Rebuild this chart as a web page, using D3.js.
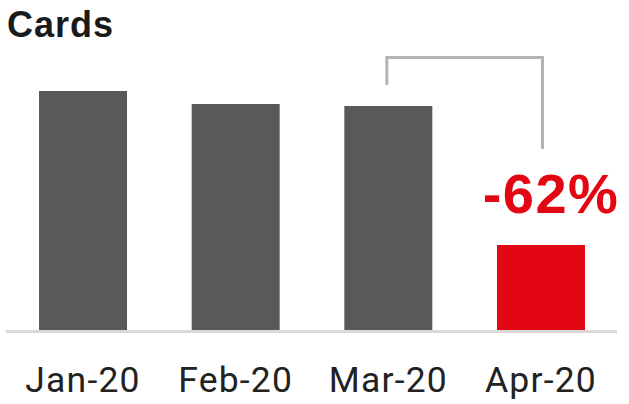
<!DOCTYPE html>
<html>
<head>
<meta charset="utf-8">
<script src="https://cdn.jsdelivr.net/npm/d3@7"></script>
<style>
  html, body { margin: 0; padding: 0; background: #fff; }
  svg { display: block; }
</style>
</head>
<body>
<svg id="chart" width="629" height="404"></svg>
<script>
const categories = ["Jan-20", "Feb-20", "Mar-20", "Apr-20"];
const values = [239, 226, 224, 85];
const highlight = ["Apr-20"];
const changeLabel = "-62%";
const title = "Cards";

const W = 629, H = 404;
const svg = d3.select("#chart");

const x = d3.scaleBand()
  .domain(categories)
  .range([6.7, 617.3])
  .paddingInner(0.4236)
  .paddingOuter(0.2118);

const y = d3.scaleLinear()
  .domain([0, 239])
  .range([330, 91]);

// title
svg.append("text")
  .attr("x", 7)
  .attr("y", 37)
  .attr("font-family", "'Liberation Sans', Arial, sans-serif")
  .attr("font-weight", "bold")
  .attr("font-size", 36)
  .attr("letter-spacing", 1)
  .attr("fill", "#1a1a1a")
  .text(title);

// bars
svg.selectAll("rect.bar")
  .data(categories)
  .enter().append("rect")
  .attr("class", "bar")
  .attr("x", d => x(d))
  .attr("width", x.bandwidth())
  .attr("y", (d, i) => y(values[i]))
  .attr("height", (d, i) => y(0) - y(values[i]))
  .attr("fill", d => highlight.includes(d) ? "#e30613" : "#58595b");

// baseline
svg.append("line")
  .attr("x1", 6).attr("x2", 617)
  .attr("y1", y(0) + 1.5).attr("y2", y(0) + 1.5)
  .attr("stroke", "#d9d9d9")
  .attr("stroke-width", 3);

// axis labels
const axis = d3.axisBottom(x).tickSize(0).tickPadding(0);
const gAxis = svg.append("g")
  .attr("transform", `translate(0,${y(0)})`)
  .call(axis);
gAxis.select(".domain").remove();
gAxis.selectAll("text")
  .attr("dy", null)
  .attr("y", 61.5)
  .attr("font-family", "Roboto, sans-serif")
  .attr("font-size", 35.5)
  .attr("letter-spacing", 1.2)
  .attr("fill", "#222");

// bracket between Mar and Apr
const mi = categories.indexOf("Mar-20"), ai = categories.indexOf("Apr-20");
const bx1 = x(categories[mi]) + x.bandwidth() / 2 - 1.5;
const bx2 = x(categories[ai]) + x.bandwidth() / 2 + 1.5;
const byTop = y(d3.max(values)) - 33.5;
svg.append("path")
  .attr("d", `M${bx1},${y(values[mi]) - 21}V${byTop}H${bx2}V${y(values[ai]) - 96}`)
  .attr("fill", "none")
  .attr("stroke", "#b3b3b3")
  .attr("stroke-width", 3);

// change label
svg.append("text")
  .attr("x", 551)
  .attr("y", 213)
  .attr("text-anchor", "middle")
  .attr("font-family", "'Liberation Sans', Arial, sans-serif")
  .attr("font-weight", "bold")
  .attr("font-size", 56)
  .attr("letter-spacing", 1.5)
  .attr("fill", "#e30613")
  .text(changeLabel);
</script>
</body>
</html>
